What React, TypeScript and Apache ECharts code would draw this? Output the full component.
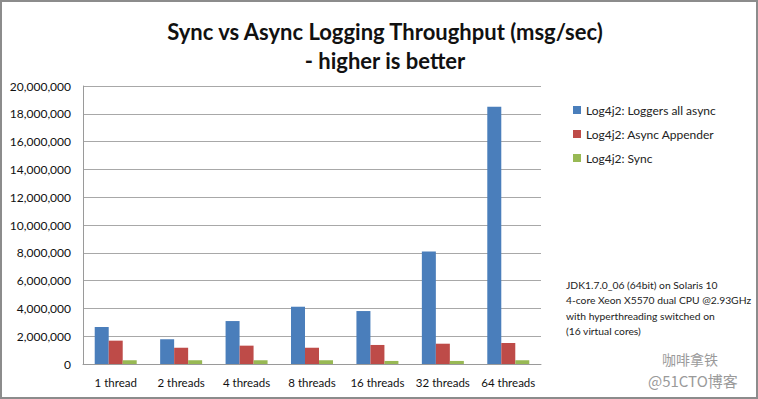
import React, { useEffect, useRef } from "react";
import * as echarts from "echarts";

const categories = ["1 thread", "2 threads", "4 threads", "8 threads", "16 threads", "32 threads", "64 threads"];
const loggersAllAsync = [2660000, 1780000, 3090000, 4120000, 3810000, 8100000, 18500000];
const asyncAppender = [1680000, 1170000, 1320000, 1170000, 1370000, 1460000, 1510000];
const syncValues = [270000, 270000, 270000, 270000, 220000, 220000, 270000];
const seriesNames = ["Log4j2: Loggers all async", "Log4j2: Async Appender", "Log4j2: Sync"];
const noteLines = [
  "JDK1.7.0_06 (64bit) on Solaris 10",
  "4-core Xeon X5570 dual CPU @2.93GHz",
  "with hyperthreading switched on",
  "(16 virtual cores)",
];

const FONT = "Lato, 'Open Sans', sans-serif";

export default function App() {
  const ref = useRef<HTMLDivElement>(null);
  useEffect(() => {
    if (!ref.current) return;
    const chart = echarts.init(ref.current, null, { renderer: "svg" });
    const colors = ["#4a7ebb", "#be4b48", "#98b954"];
    const mk = (name: string, data: number[], i: number) => ({
      name,
      type: "bar",
      data,
      barWidth: 14,
      barGap: "0%",
      itemStyle: { color: colors[i] },
    });
    chart.setOption({
      animation: false,
      backgroundColor: "#ffffff",
      textStyle: { fontFamily: FONT },
      title: {
        text: "Sync vs Async Logging Throughput (msg/sec)\n- higher is better",
        left: 380,
        top: 12,
        textAlign: "center",
        textStyle: { fontSize: 22, fontWeight: "bold", color: "#111", lineHeight: 29, fontFamily: FONT },
      },
      legend: {
        orient: "vertical",
        left: 568,
        top: 99,
        itemWidth: 8,
        itemHeight: 8,
        itemGap: 12,
        icon: "rect",
        textStyle: { fontSize: 12, color: "#222", fontFamily: FONT },
        data: seriesNames,
      },
      grid: { left: 83, top: 86, width: 458, height: 278 },
      xAxis: {
        type: "category",
        data: categories,
        axisLine: { lineStyle: { color: "#9a9a9a" } },
        axisTick: { show: false },
        axisLabel: { color: "#111", fontSize: 11.5, margin: 12, interval: 0, fontFamily: FONT },
      },
      yAxis: {
        type: "value",
        min: 0,
        max: 20000000,
        interval: 2000000,
        axisLine: { show: true, lineStyle: { color: "#9a9a9a" } },
        axisTick: { show: false },
        splitLine: { lineStyle: { color: "#a8a8a8" } },
        axisLabel: {
          color: "#111",
          fontSize: 12,
          margin: 12,
          fontFamily: FONT,
          formatter: (v: number) => v.toLocaleString("en-US"),
        },
      },
      graphic: [
        {
          type: "rect",
          shape: { x: 1, y: 1, width: 756, height: 397 },
          style: { fill: "none", stroke: "#8c8c8c", lineWidth: 2 },
          silent: true,
        },
        {
          type: "text",
          left: 566,
          top: 277,
          style: {
            text: noteLines.join("\n"),
            font: `10.3px ${FONT}`,
            lineHeight: 15.5,
            fill: "#222",
          },
        },
        {
          type: "text",
          left: 662,
          top: 352,
          style: { text: "咖啡拿铁", font: "14px 'Noto Sans CJK SC'", fill: "#9a9a9a" },
        },
        {
          type: "text",
          left: 648,
          top: 373,
          style: { text: "@51CTO博客", font: "15px 'Noto Sans CJK SC'", fill: "#9a9a9a" },
        },
      ],
      series: [
        mk(seriesNames[0], loggersAllAsync, 0),
        mk(seriesNames[1], asyncAppender, 1),
        mk(seriesNames[2], syncValues, 2),
      ],
    });
    return () => chart.dispose();
  }, []);
  return <div ref={ref} style={{ width: 758, height: 399, position: "absolute", left: 0, top: 0 }} />;
}
